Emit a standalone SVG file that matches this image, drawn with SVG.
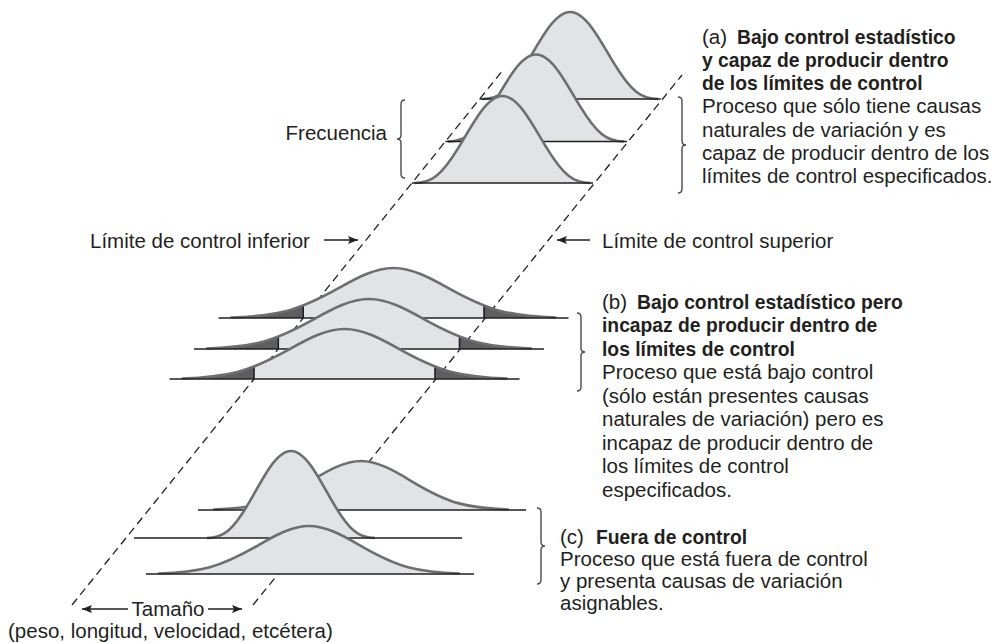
<svg xmlns="http://www.w3.org/2000/svg" xmlns:xlink="http://www.w3.org/1999/xlink" width="995" height="644" viewBox="0 0 995 644">
<style>
.fill{fill:#e2e3e5;stroke:none}
.dark{fill:#5d5e60;stroke:none}
.curve{fill:none;stroke:#6d6e71;stroke-width:2.6;stroke-linejoin:round}
.base{stroke:#231f20;stroke-width:1.5}
.lim{stroke:#231f20;stroke-width:1.6}
.dash{stroke:#231f20;stroke-width:1.3;stroke-dasharray:8 5;fill:none}
.brace{fill:none;stroke:#4a4a4c;stroke-width:1.4}
.arrow{stroke:#231f20;stroke-width:1.4;marker-end:url(#ah)}
text{font-family:"Liberation Sans",Arial,Helvetica,sans-serif;font-size:20.5px;fill:#231f20}
.b{font-weight:bold;font-size:19.3px}
</style>
<defs>
<path id="bell" vector-effect="non-scaling-stroke" d="M-3,0 L-3,-0.0111 C-2.6667,-0.0222 -2.3333,-0.0451 -2,-0.1353 C-1.6667,-0.2255 -1.3333,-0.4043 -1,-0.6065 C-0.6667,-0.8087 -0.3333,-1 0,-1 C0.3333,-1 0.6667,-0.8087 1,-0.6065 C1.3333,-0.4043 1.6667,-0.2255 2,-0.1353 C2.3333,-0.0451 2.6667,-0.0222 3,-0.0111 L3,0"/>
<path id="bell2" vector-effect="non-scaling-stroke" d="M-1,0 C-0.9167,0 -0.8333,-0.0147 -0.75,-0.0823 C-0.6667,-0.1499 -0.5833,-0.2679 -0.5,-0.4061 C-0.4167,-0.5443 -0.3333,-0.6992 -0.25,-0.814 C-0.1667,-0.9288 -0.0833,-1 0,-1 C0.0833,-1 0.1667,-0.9288 0.25,-0.814 C0.3333,-0.6992 0.4167,-0.5443 0.5,-0.4061 C0.5833,-0.2679 0.6667,-0.1499 0.75,-0.0823 C0.8333,-0.0147 0.9167,0 1,0"/>
<marker id="ah" viewBox="0 0 10 8" refX="10" refY="4" markerWidth="10" markerHeight="8" markerUnits="userSpaceOnUse" orient="auto">
<path d="M0,0 L10,4 L0,8 L2,4 z" fill="#231f20"/>
</marker>
<clipPath id="cb1"><rect x="303.2" y="240" width="180.8" height="80"/></clipPath>
<clipPath id="cb2"><rect x="278.3" y="270" width="181.2" height="80"/></clipPath>
<clipPath id="cb3"><rect x="254" y="300" width="181" height="80"/></clipPath>
</defs>

<g id="limits">
<path class="dash" d="M72,605 L503,70"/>
<path class="dash" d="M253,605 L682,75"/>
</g>

<g id="curves-a">
<g id="a-back">
<use xlink:href="#bell2" class="fill" transform="translate(570.2,99) scale(88,87)"/>
<use xlink:href="#bell2" class="curve" transform="translate(570.2,99) scale(88,87)"/>
<line class="base" x1="479.7" y1="99" x2="660.7" y2="99"/>
</g>
<g id="a-mid">
<use xlink:href="#bell2" class="fill" transform="translate(536,141.5) scale(88,87)"/>
<use xlink:href="#bell2" class="curve" transform="translate(536,141.5) scale(88,87)"/>
<line class="base" x1="445.4" y1="141.5" x2="627" y2="141.5"/>
</g>
<g id="a-front">
<use xlink:href="#bell2" class="fill" transform="translate(502.5,183) scale(88,87)"/>
<use xlink:href="#bell2" class="curve" transform="translate(502.5,183) scale(88,87)"/>
<line class="base" x1="412" y1="183" x2="593" y2="183"/>
</g>
</g>

<g id="curves-b">
<g id="b-back">
<use xlink:href="#bell" class="dark" transform="translate(393.5,318) scale(54,50)"/>
<g clip-path="url(#cb1)"><use xlink:href="#bell" class="fill" transform="translate(393.5,318) scale(54,50)"/></g>
<line class="lim" x1="303.2" y1="318" x2="303.2" y2="305"/>
<line class="lim" x1="484" y1="318" x2="484" y2="305"/>
<use xlink:href="#bell" class="curve" transform="translate(393.5,318) scale(54,50)"/>
<line class="base" x1="218.5" y1="318" x2="568.5" y2="318"/>
</g>
<g id="b-mid">
<use xlink:href="#bell" class="dark" transform="translate(369,349) scale(54,50)"/>
<g clip-path="url(#cb2)"><use xlink:href="#bell" class="fill" transform="translate(369,349) scale(54,50)"/></g>
<line class="lim" x1="278.3" y1="349" x2="278.3" y2="336"/>
<line class="lim" x1="459.5" y1="349" x2="459.5" y2="336"/>
<use xlink:href="#bell" class="curve" transform="translate(369,349) scale(54,50)"/>
<line class="base" x1="194" y1="349" x2="544" y2="349"/>
</g>
<g id="b-front">
<use xlink:href="#bell" class="dark" transform="translate(344.5,379) scale(54,50)"/>
<g clip-path="url(#cb3)"><use xlink:href="#bell" class="fill" transform="translate(344.5,379) scale(54,50)"/></g>
<line class="lim" x1="254" y1="379" x2="254" y2="366"/>
<line class="lim" x1="435" y1="379" x2="435" y2="366"/>
<use xlink:href="#bell" class="curve" transform="translate(344.5,379) scale(54,50)"/>
<line class="base" x1="169.5" y1="379" x2="519.5" y2="379"/>
</g>
</g>

<g id="curves-c">
<g id="c-back">
<use xlink:href="#bell" class="fill" transform="translate(361,510) scale(49,49)"/>
<use xlink:href="#bell" class="curve" transform="translate(361,510) scale(49,49)"/>
<line class="base" x1="198" y1="510" x2="526" y2="510"/>
</g>
<g id="c-mid">
<use xlink:href="#bell2" class="fill" transform="translate(291,538) scale(84,87)"/>
<use xlink:href="#bell2" class="curve" transform="translate(291,538) scale(84,87)"/>
<line class="base" x1="134" y1="538" x2="462" y2="538"/>
</g>
<g id="c-front">
<use xlink:href="#bell" class="fill" transform="translate(309,574) scale(50,48)"/>
<use xlink:href="#bell" class="curve" transform="translate(309,574) scale(50,48)"/>
<line class="base" x1="146" y1="574" x2="474" y2="574"/>
</g>
</g>

<g id="braces">
<path class="brace" d="M405,100 Q401,100 401,104 L401,135 Q401,139 397,139 Q401,139 401,143 L401,174 Q401,178 405,178"/>
<path class="brace" d="M678,97 Q682,97 682,101 L682,141 Q682,145 686,145 Q682,145 682,149 L682,189 Q682,193 678,193"/>
<path class="brace" d="M577,313 Q581,313 581,317 L581,348 Q581,352 585,352 Q581,352 581,356 L581,387 Q581,391 577,391"/>
<path class="brace" d="M537,508 Q541,508 541,512 L541,542 Q541,546 545,546 Q541,546 541,550 L541,580 Q541,584 537,584"/>
</g>

<g id="connectors">
<line class="arrow" x1="324" y1="240" x2="358" y2="240"/>
<line class="arrow" x1="590" y1="240" x2="557" y2="240"/>
<line class="arrow" x1="128" y1="609" x2="82" y2="609"/>
<line class="arrow" x1="208" y1="609" x2="242" y2="609"/>
</g>

<g id="labels">
<text x="387" y="140" text-anchor="end">Frecuencia</text>
<text x="90" y="248">Límite de control inferior</text>
<text x="602" y="247.5">Límite de control superior</text>
<text x="168" y="616" text-anchor="middle">Tamaño</text>
<text x="8" y="638">(peso, longitud, velocidad, etcétera)</text>
</g>

<g id="text-a">
<text x="702" y="43.5">(a)<tspan x="737" class="b">Bajo control estadístico</tspan></text>
<text x="702" y="66.8" class="b">y capaz de producir dentro</text>
<text x="702" y="90.1" class="b">de los límites de control</text>
<text x="702" y="113.4">Proceso que sólo tiene causas</text>
<text x="702" y="136.7">naturales de variación y es</text>
<text x="702" y="160">capaz de producir dentro de los</text>
<text x="702" y="183.3">límites de control especificados.</text>
</g>

<g id="text-b">
<text x="602" y="308.5">(b)<tspan x="637" class="b">Bajo control estadístico pero</tspan></text>
<text x="602" y="332" class="b">incapaz de producir dentro de</text>
<text x="602" y="355.5" class="b">los límites de control</text>
<text x="602" y="379">Proceso que está bajo control</text>
<text x="602" y="402.5">(sólo están presentes causas</text>
<text x="602" y="426">naturales de variación) pero es</text>
<text x="602" y="449.5">incapaz de producir dentro de</text>
<text x="602" y="473">los límites de control</text>
<text x="602" y="496.5">especificados.</text>
</g>

<g id="text-c">
<text x="560" y="544">(c)<tspan x="596" class="b">Fuera de control</tspan></text>
<text x="560" y="566">Proceso que está fuera de control</text>
<text x="560" y="588">y presenta causas de variación</text>
<text x="560" y="610">asignables.</text>
</g>
</svg>
